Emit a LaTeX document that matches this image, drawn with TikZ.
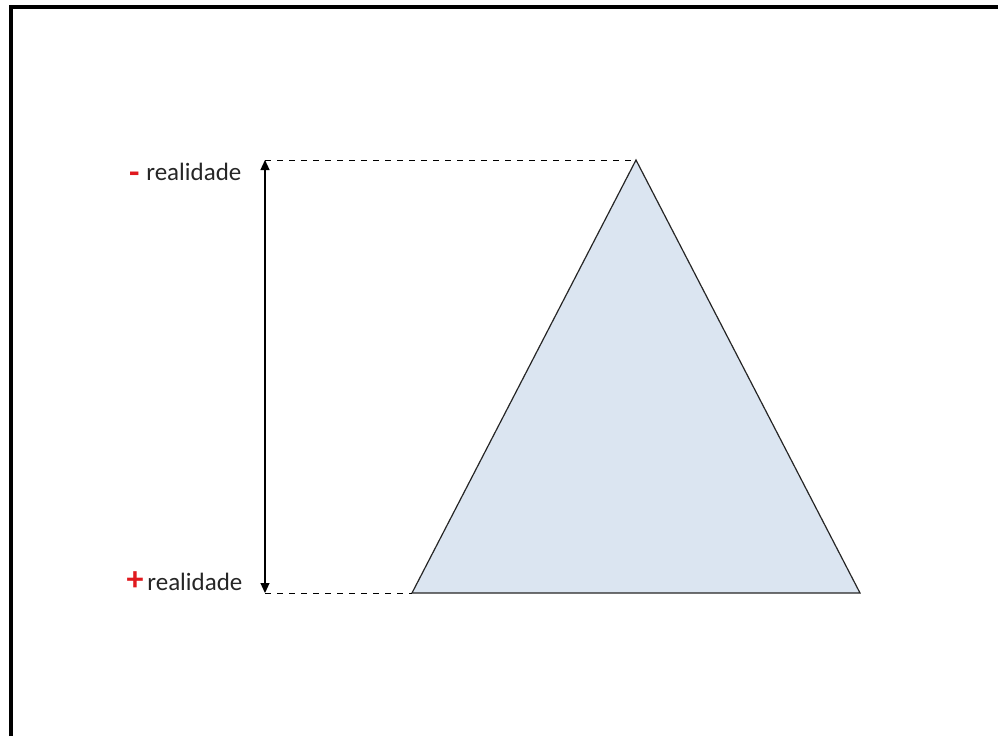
\documentclass[tikz,border=0pt]{standalone}
\usepackage{fontspec}
\setmainfont{Carlito}
\usepackage{xcolor}
\usetikzlibrary{arrows.meta, positioning}
\definecolor{trifill}{HTML}{DBE5F1}
\definecolor{signred}{HTML}{E0191E}

\begin{document}
\begin{tikzpicture}[x=0.5pt, y=-0.5pt,
    frame/.style={line width=1.6pt},
    guide/.style={dashed, thin},
    spanarrow/.style={{Triangle[length=5pt,width=4.5pt]}-{Triangle[length=5pt,width=4.5pt]}, semithick},
    tri/.style={draw=black!85, fill=trifill, line width=0.6pt},
    level/.style={font=\fontsize{12.5}{14}\selectfont, text=black!85, inner sep=0pt, anchor=west},
    sign/.style={font=\fontsize{17}{18}\selectfont\bfseries, text=signred, inner sep=0pt, anchor=base east},
  ]
    \useasboundingbox (0,0) rectangle (998,736);
    % frame (top and left only)
    \draw[frame] (11,736) -- (11,7) -- (998,7);

    % triangle corners
    \coordinate (apex) at (636,160);
    \coordinate (bl) at (412,593);
    \coordinate (br) at (860,593);
    \draw[tri] (apex) -- (br) -- (bl) -- cycle;

    % span arrow
    \coordinate (top) at (265,160);
    \coordinate (bot) at (265,593);
    \draw[spanarrow] (top) -- (bot);
    \draw[guide] (top) -- (apex);
    \draw[guide] (bot) -- (bl);

    % labels
    \node[level] (lowtxt) at (146,172) {realidade};
    \node[sign] (minus) at ([xshift=-3pt, yshift=-1.5pt]lowtxt.base west) {-};
    \node[level] (hightxt) at (147,582) {realidade};
    \node[sign] (plus) at ([xshift=-1.5pt]hightxt.base west) {+};
\end{tikzpicture}
\end{document}
